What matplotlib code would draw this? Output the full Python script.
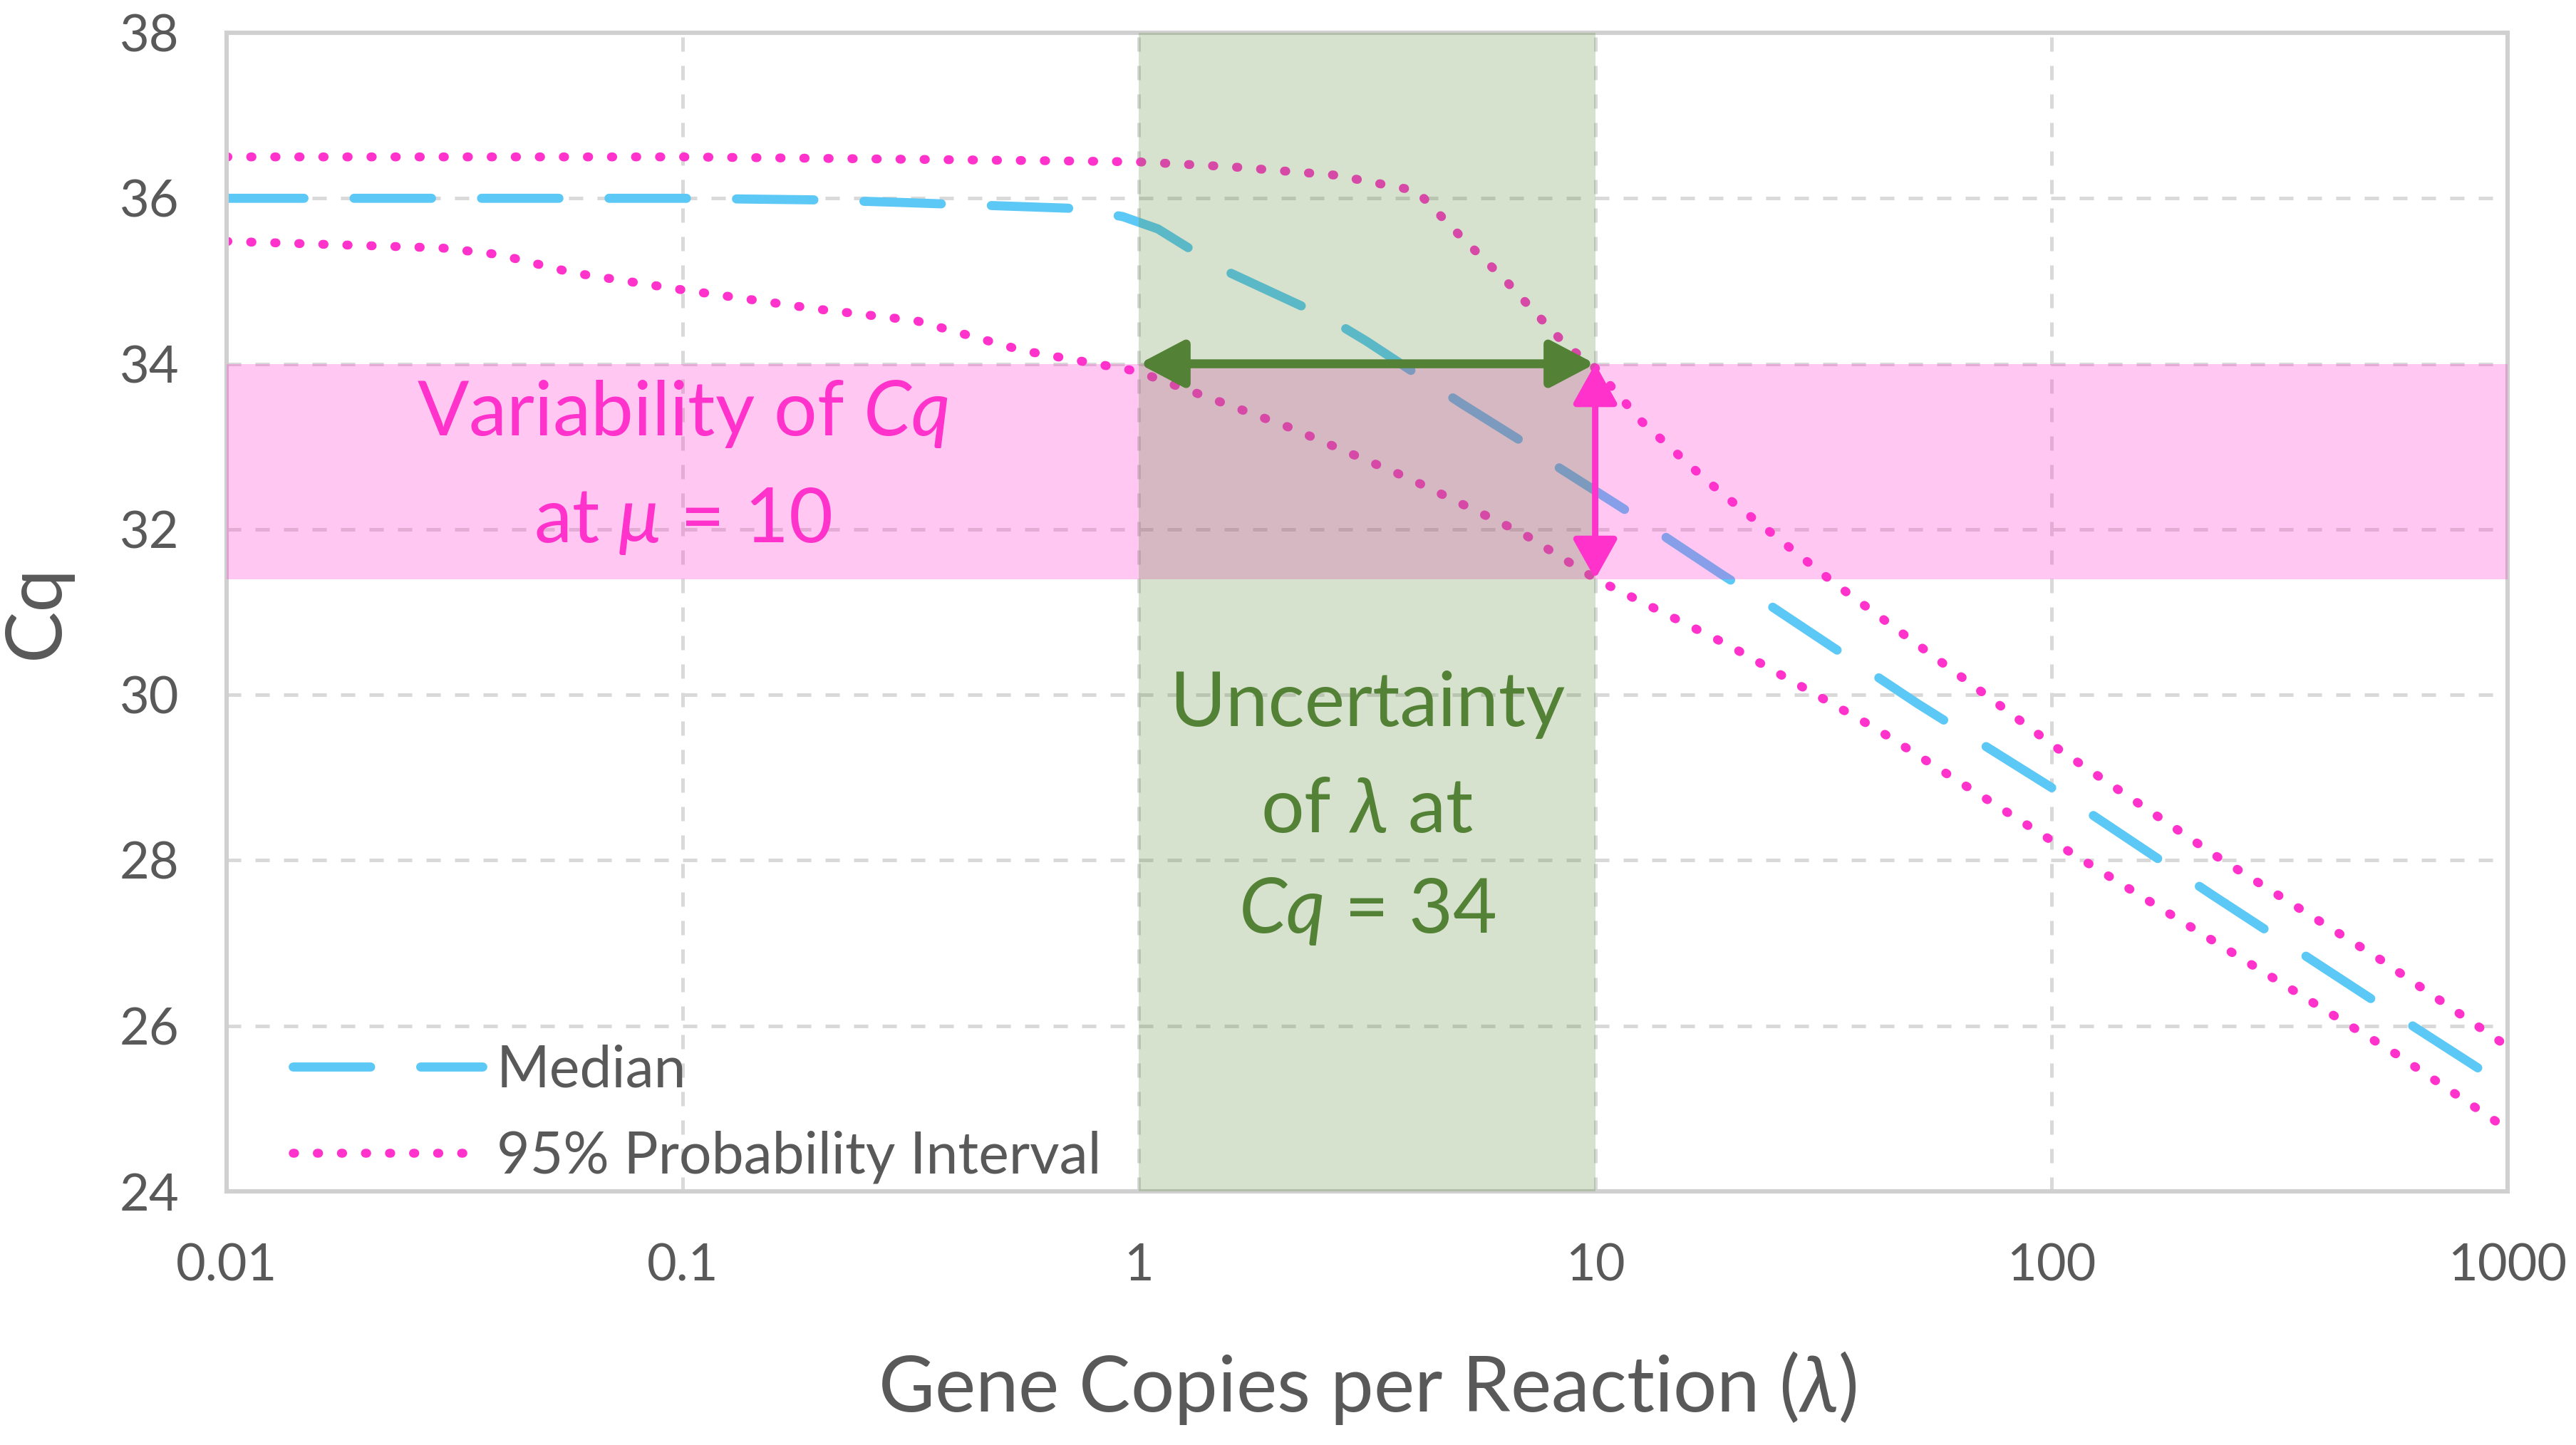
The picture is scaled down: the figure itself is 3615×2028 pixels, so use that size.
import numpy as np
import matplotlib
matplotlib.use("Agg")
import matplotlib.pyplot as plt
from matplotlib.patches import FancyArrowPatch
from matplotlib.lines import Line2D

plt.rcParams['font.family'] = ['Lato', 'DejaVu Sans']
plt.rcParams['mathtext.fontset'] = 'custom'
plt.rcParams['mathtext.rm'] = 'Lato'
plt.rcParams['mathtext.it'] = 'Lato:italic'
plt.rcParams['mathtext.bf'] = 'Lato:bold'
plt.rcParams['mathtext.fallback'] = 'stixsans'

# Data
median_x = [0.01, 0.1, 0.2, 0.3, 0.55, 0.7, 0.92, 1.1, 1.54, 1.86, 2.62, 3.16, 4.34, 5.09,
            7.2, 8.3, 11.6, 13.7, 19.0, 22.7, 51, 100, 224, 611, 1000]
median_y = [36.0, 36.0, 35.98, 35.95, 35.9, 35.88, 35.78, 35.63, 35.13, 34.92, 34.54, 34.27, 33.77, 33.52,
            33.0, 32.75, 32.24, 31.97, 31.45, 31.18, 29.89, 28.88, 27.59, 26.02, 25.26]

upper_x = [0.01, 0.1, 0.73, 1.0, 1.6, 2.69, 4.06, 5.09, 6.38, 7.38, 8.61, 10, 12.6, 17.3,
           20.3, 33.6, 73, 102, 230, 520, 1000]
upper_y = [36.5, 36.5, 36.45, 36.44, 36.38, 36.28, 36.09, 35.53, 35.0, 34.62, 34.23, 33.95, 33.31, 32.62,
           32.30, 31.34, 29.97, 29.37, 28.05, 26.82, 25.75]

lower_x = [0.01, 0.0296, 0.0395, 0.0574, 0.098, 0.198, 0.325, 0.556, 0.99, 2.14, 3.89, 6.94,
           10.1, 19.6, 41.3, 102, 255, 573, 1000]
lower_y = [35.48, 35.40, 35.32, 35.10, 34.90, 34.66, 34.52, 34.16, 33.91, 33.23, 32.62, 31.95,
           31.39, 30.6, 29.59, 28.21, 26.85, 25.65, 24.75]

x_ticks = [0.01, 0.1, 1, 10, 100, 1000]
x_tick_labels = ['0.01', '0.1', '1', '10', '100', '1000']
y_ticks = [24, 26, 28, 30, 32, 34, 36, 38]

# highlighted regions
cq_band = (31.4, 34.0)
lam_band = (1, 10)

gray = '#595959'
blue = '#5bc8f5'
magenta = '#ff33cc'
green = '#538135'

med_style = dict(color=blue, lw=4.6, dashes=(8.5, 5.5), dash_capstyle='round')
pi_style = dict(color=magenta, lw=4.5, dashes=(0.15, 2.55), dash_capstyle='round')

fig = plt.figure(figsize=(18.08, 10.14), dpi=200)
ax = fig.add_axes([0.08794, 0.17554, 0.88523, 0.80178])

ax.set_xscale('log')
ax.set_xlim(0.01, 1000)
ax.set_ylim(24, 38)

ax.grid(True, which='major', color='#d9d9d9', lw=1.8, linestyle=(0, (4, 4)))
ax.set_axisbelow(True)

ax.plot(median_x, median_y, zorder=2, **med_style)
ax.plot(upper_x, upper_y, zorder=2, **pi_style)
ax.plot(lower_x, lower_y, zorder=2, **pi_style)

ax.axhspan(cq_band[0], cq_band[1], color=magenta, alpha=0.27, lw=0, zorder=3)
ax.axvspan(lam_band[0], lam_band[1], color='#5e8c3a', alpha=0.25, lw=0, zorder=4)

arr_green = FancyArrowPatch((lam_band[0], cq_band[1]), (lam_band[1], cq_band[1]),
                            arrowstyle='<|-|>,head_length=1.9,head_width=1.0',
                            mutation_scale=10, lw=4.5, color=green,
                            shrinkA=0, shrinkB=0, zorder=5)
ax.add_patch(arr_green)
arr_pink = FancyArrowPatch((lam_band[1], cq_band[0]), (lam_band[1], cq_band[1]),
                           arrowstyle='<|-|>,head_length=1.7,head_width=0.95',
                           mutation_scale=10, lw=3.2, color=magenta,
                           shrinkA=0, shrinkB=0, zorder=5)
ax.add_patch(arr_pink)

note_size = 38.5
ax.text(0.1, 33.39, 'Variability of $Cq$', color=magenta, fontsize=note_size,
        ha='center', va='center', zorder=6)
ax.text(0.1, 32.1, r'at $\mu$ = 10', color=magenta, fontsize=note_size,
        ha='center', va='center', zorder=6)

ax.text(3.16, 29.88, 'Uncertainty', color=green, fontsize=note_size,
        ha='center', va='center', zorder=6)
ax.text(3.16, 28.6, r'of $\lambda$ at', color=green, fontsize=note_size,
        ha='center', va='center', zorder=6)
ax.text(3.16, 27.38, '$Cq$ = 34', color=green, fontsize=note_size,
        ha='center', va='center', zorder=6)

ax.set_xticks(x_ticks)
ax.set_xticklabels(x_tick_labels)
ax.xaxis.set_minor_locator(matplotlib.ticker.NullLocator())
ax.set_yticks(y_ticks)
ax.tick_params(axis='both', length=0, labelsize=26, labelcolor=gray)
ax.tick_params(axis='x', pad=26)
ax.tick_params(axis='y', pad=24)

for s in ax.spines.values():
    s.set_color('#d0d0d0')
    s.set_linewidth(2.2)

ax.set_xlabel(r'Gene Copies per Reaction ($\lambda$)', fontsize=39, color=gray)
ax.xaxis.label.set_va('center')
ax.xaxis.set_label_coords(0.5, -0.170)
ax.set_ylabel('Cq', fontsize=39, color=gray)
ax.yaxis.label.set_va('center')
ax.yaxis.set_label_coords(-0.0834, 0.5)

handles = [Line2D([], [], **med_style), Line2D([], [], **pi_style)]
leg = ax.legend(handles, ['Median', '95% Probability Interval'], loc='lower left',
                bbox_to_anchor=(0.029, 0.007), frameon=False, fontsize=29,
                handlelength=3.3, handletextpad=0.25, labelspacing=0.58,
                borderpad=0, borderaxespad=0)
for t in leg.get_texts():
    t.set_color(gray)

fig.savefig('out.png', dpi=200, facecolor='white')
